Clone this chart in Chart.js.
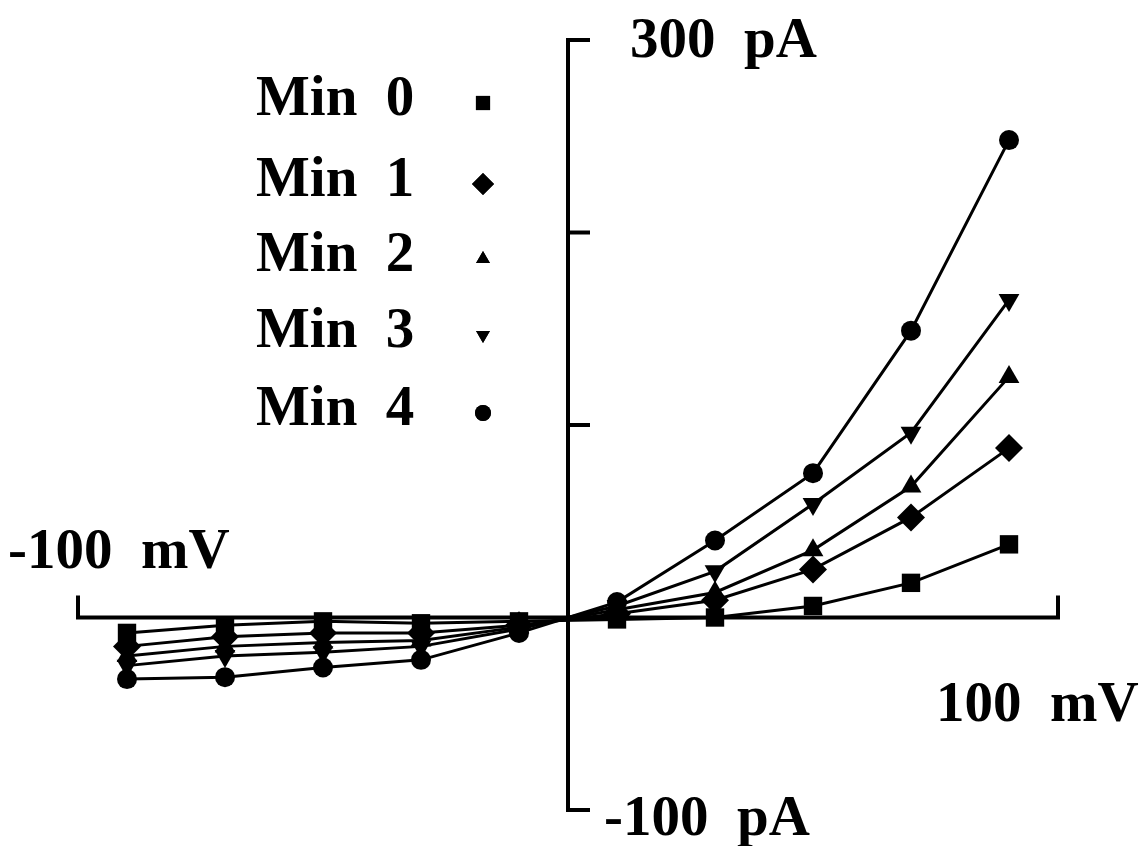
<!DOCTYPE html>
<html>
<head>
<meta charset="utf-8">
<title>I-V</title>
<script src="https://cdn.jsdelivr.net/npm/chart.js@4.4.1/dist/chart.umd.min.js"></script>
<style>
  html, body { margin: 0; padding: 0; background: #fff; }
  #wrap { width: 1146px; height: 846px; }
</style>
</head>
<body>
<div id="wrap"><canvas id="iv"></canvas></div>
<script>
// voltage steps (mV) and currents (pA) per minute
var voltages = [-90, -70, -50, -30, -10, 10, 30, 50, 70, 90];
var min0 = [-8, -4, -2, -3, -2, -1, 0, 6, 18, 38];
var min1 = [-15, -10, -8, -8, -4, 2, 9, 25, 52, 88];
var min2 = [-20, -15, -13, -12, -5, 4, 13, 35, 68, 125];
var min3 = [-25, -20, -18, -15, -6, 6, 24, 59, 96, 165];
var min4 = [-32, -31, -26, -22, -8, 8, 40, 75, 149, 248];

var seriesNames = ['Min 0', 'Min 1', 'Min 2', 'Min 3', 'Min 4'];
var yTicks = [-100, 0, 100, 200, 300];

var serif = '"Liberation Serif", "DejaVu Serif", serif';

function pts(ys) {
  return voltages.map(function (v, i) { return { x: v, y: ys[i] }; });
}

var styles = [
  { pointStyle: 'rect', radius: 13, rotation: 0, legendR: 10 },
  { pointStyle: 'rectRot', radius: 14, rotation: 0, legendR: 11 },
  { pointStyle: 'triangle', radius: 12, rotation: 0, legendR: 8 },
  { pointStyle: 'triangle', radius: 12, rotation: 180, legendR: 8 },
  { pointStyle: 'circle', radius: 10, rotation: 0, legendR: 8 }
];

var allData = [min0, min1, min2, min3, min4];
var datasets = allData.map(function (d, i) {
  return {
    label: seriesNames[i],
    data: pts(d),
    showLine: true,
    borderColor: '#000',
    backgroundColor: '#000',
    borderWidth: 3,
    pointStyle: styles[i].pointStyle,
    pointRadius: styles[i].radius,
    pointRotation: styles[i].rotation,
    pointBorderWidth: 0,
    clip: false
  };
});

// hand-drawn cross axes through zero, plus the text labels and legend
var crossAxes = {
  id: 'crossAxes',
  beforeDatasetsDraw: function (chart) {
    var ctx = chart.ctx;
    var xs = chart.scales.x, ys = chart.scales.y;
    var x0 = xs.getPixelForValue(0), y0 = ys.getPixelForValue(0);
    var tick = 22;
    ctx.save();
    ctx.strokeStyle = '#000';
    ctx.lineWidth = 4;
    ctx.lineCap = 'butt';
    // vertical axis
    ctx.beginPath();
    ctx.moveTo(x0, ys.getPixelForValue(300));
    ctx.lineTo(x0, ys.getPixelForValue(-100));
    ctx.stroke();
    yTicks.forEach(function (t) {
      if (t === 0) return;
      var py = ys.getPixelForValue(t);
      ctx.beginPath();
      ctx.moveTo(x0 - 2, py);
      ctx.lineTo(x0 + tick, py);
      ctx.stroke();
    });
    // horizontal axis with upturned ends
    var xl = xs.getPixelForValue(-100), xr = xs.getPixelForValue(100);
    ctx.beginPath();
    ctx.moveTo(xl, y0 - tick);
    ctx.lineTo(xl, y0);
    ctx.lineTo(xr, y0);
    ctx.lineTo(xr, y0 - tick);
    ctx.stroke();
    ctx.restore();
  },
  afterDraw: function (chart) {
    var ctx = chart.ctx;
    ctx.save();
    ctx.fillStyle = '#000';
    ctx.textBaseline = 'middle';
    ctx.textAlign = 'left';
    ctx.font = 'bold 57px ' + serif;
    ctx.fillText('300  pA', 630, 42);
    ctx.fillText('-100  pA', 604, 820);
    ctx.fillText('-100  mV', 8, 553);
    ctx.fillText('100  mV', 936, 706);

    // legend
    var rows = [100, 181, 256, 332, 410];
    seriesNames.forEach(function (name, i) {
      ctx.fillStyle = '#000';
      ctx.font = 'bold 57px ' + serif;
      ctx.textAlign = 'left';
      ctx.fillText(name.replace(' ', '  '), 256, rows[i]);
      Chart.helpers.drawPoint(ctx, {
        pointStyle: styles[i].pointStyle,
        radius: styles[i].legendR,
        rotation: styles[i].rotation,
        borderWidth: 0
      }, 483, rows[i] + 3);
      ctx.fill();
    });
    ctx.restore();
  }
};

new Chart(document.getElementById('iv'), {
  type: 'scatter',
  data: { datasets: datasets },
  options: {
    responsive: true,
    maintainAspectRatio: false,
    animation: false,
    layout: { padding: { left: 78, right: 88, top: 40, bottom: 36 } },
    plugins: { legend: { display: false }, tooltip: { enabled: false } },
    scales: {
      x: { type: 'linear', min: -100, max: 100, display: false },
      y: { type: 'linear', min: -100, max: 300, display: false }
    }
  },
  plugins: [crossAxes]
});
</script>
</body>
</html>
